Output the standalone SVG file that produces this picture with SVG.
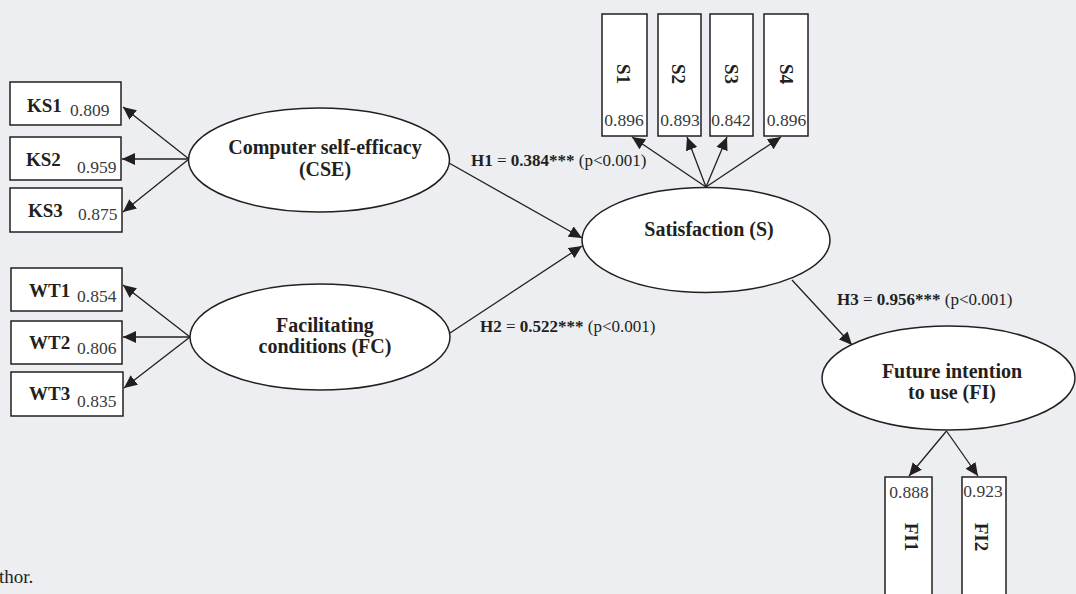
<svg xmlns="http://www.w3.org/2000/svg" width="1076" height="594" viewBox="0 0 1076 594" font-family="'Liberation Serif', 'Times New Roman', serif">
<style>
.lbl{font-family:'Liberation Serif',serif;font-size:19px;font-weight:bold;fill:#231f20}
.val{font-family:'Liberation Serif',serif;font-size:17.5px;fill:#3a3a3a}
.lat{font-family:'Liberation Serif',serif;font-size:20px;font-weight:bold;text-anchor:middle;fill:#231f20}
.hyp{font-family:'Liberation Serif',serif;font-size:17px;fill:#231f20}
.b{font-weight:bold}
.box{fill:#fff;stroke:#231f20;stroke-width:1.5}
.ell{fill:#fff;stroke:#231f20;stroke-width:1.5}
.con line{stroke:#231f20;stroke-width:1.3;marker-end:url(#ah)}
.mid{text-anchor:middle}
</style>
<defs>
<marker id="ah" markerUnits="userSpaceOnUse" markerWidth="13" markerHeight="12" refX="13" refY="6" orient="auto">
<path d="M0,0 L13,6 L0,12 z" fill="#231f20"/>
</marker>
</defs>
<rect width="1076" height="594" fill="#eceef2"/>
<g id="connectors" class="con">
<line x1="189" y1="159" x2="123" y2="107"/>
<line x1="189" y1="159" x2="122" y2="159"/>
<line x1="189" y1="159" x2="123" y2="212"/>
<line x1="190" y1="337" x2="123" y2="285"/>
<line x1="190" y1="337" x2="123" y2="337"/>
<line x1="190" y1="337" x2="124" y2="388"/>
<line x1="449" y1="163" x2="582" y2="238"/>
<line x1="450" y1="333" x2="582" y2="246"/>
<line x1="706" y1="187" x2="632" y2="137"/>
<line x1="706" y1="187" x2="687" y2="137"/>
<line x1="706" y1="187" x2="727" y2="137"/>
<line x1="706" y1="187" x2="781" y2="137"/>
<line x1="792" y1="280" x2="852" y2="345"/>
<line x1="946.5" y1="431" x2="909" y2="476"/>
<line x1="946.5" y1="431" x2="978" y2="476"/>
</g>
<g id="KS1"><rect class="box" x="10" y="82" width="111" height="43"/><text class="lbl" x="27" y="112">KS1</text><text class="val" x="70" y="116">0.809</text></g>
<g id="KS2"><rect class="box" x="10" y="137" width="111" height="43"/><text class="lbl" x="26" y="166">KS2</text><text class="val" x="77" y="173">0.959</text></g>
<g id="KS3"><rect class="box" x="10" y="188" width="112" height="44"/><text class="lbl" x="28" y="217">KS3</text><text class="val" x="78" y="220">0.875</text></g>
<g id="WT1"><rect class="box" x="11" y="268" width="111" height="43"/><text class="lbl" x="29" y="297">WT1</text><text class="val" x="77" y="302">0.854</text></g>
<g id="WT2"><rect class="box" x="11" y="321" width="111" height="43"/><text class="lbl" x="29" y="349">WT2</text><text class="val" x="77" y="354">0.806</text></g>
<g id="WT3"><rect class="box" x="11" y="372" width="112" height="44"/><text class="lbl" x="29" y="400">WT3</text><text class="val" x="77" y="407">0.835</text></g>
<g id="CSE"><ellipse class="ell" cx="319" cy="160" rx="130.5" ry="52"/><text class="lat" x="325" y="154">Computer self-efficacy</text><text class="lat" x="325" y="176">(CSE)</text></g>
<g id="FC"><ellipse class="ell" cx="320" cy="337" rx="130" ry="53"/><text class="lat" x="325" y="332">Facilitating</text><text class="lat" x="325" y="353">conditions (FC)</text></g>
<g id="S"><ellipse class="ell" cx="706" cy="240" rx="124" ry="52.5"/><text class="lat" x="709" y="236">Satisfaction (S)</text></g>
<g id="FI"><ellipse class="ell" cx="948.5" cy="378" rx="126.5" ry="52"/><text class="lat" x="952" y="378">Future intention</text><text class="lat" x="952" y="399">to use (FI)</text></g>
<g id="S1"><rect class="box" x="602" y="14" width="45" height="122"/><text class="lbl mid" transform="translate(623,74) rotate(90)" x="0" y="6.5">S1</text><text class="val mid" x="624" y="126">0.896</text></g>
<g id="S2"><rect class="box" x="658" y="14" width="43" height="122"/><text class="lbl mid" transform="translate(678,74) rotate(90)" x="0" y="6.5">S2</text><text class="val mid" x="680" y="126">0.893</text></g>
<g id="S3"><rect class="box" x="710" y="14" width="43" height="122"/><text class="lbl mid" transform="translate(731,74) rotate(90)" x="0" y="6.5">S3</text><text class="val mid" x="731" y="126">0.842</text></g>
<g id="S4"><rect class="box" x="764" y="14" width="44" height="122"/><text class="lbl mid" transform="translate(786,74) rotate(90)" x="0" y="6.5">S4</text><text class="val mid" x="786.5" y="126">0.896</text></g>
<g id="FI1"><rect class="box" x="885" y="477" width="47" height="130"/><text class="val mid" x="909" y="498">0.888</text><text class="lbl mid" transform="translate(911,537) rotate(90)" x="0" y="6.5">FI1</text></g>
<g id="FI2"><rect class="box" x="962" y="477" width="44" height="130"/><text class="val mid" x="983" y="497">0.923</text><text class="lbl mid" transform="translate(981,537) rotate(90)" x="0" y="6.5">FI2</text></g>
<g id="labels">
<text class="hyp" x="471" y="166"><tspan class="b">H1</tspan> = <tspan class="b">0.384***</tspan> (p&lt;0.001)</text>
<text class="hyp" x="480" y="332"><tspan class="b">H2</tspan> = <tspan class="b">0.522***</tspan> (p&lt;0.001)</text>
<text class="hyp" x="837" y="305"><tspan class="b">H3</tspan> = <tspan class="b">0.956***</tspan> (p&lt;0.001)</text>
<text class="hyp" x="-1" y="583" style="font-size:19px">thor.</text>
</g>
</svg>
